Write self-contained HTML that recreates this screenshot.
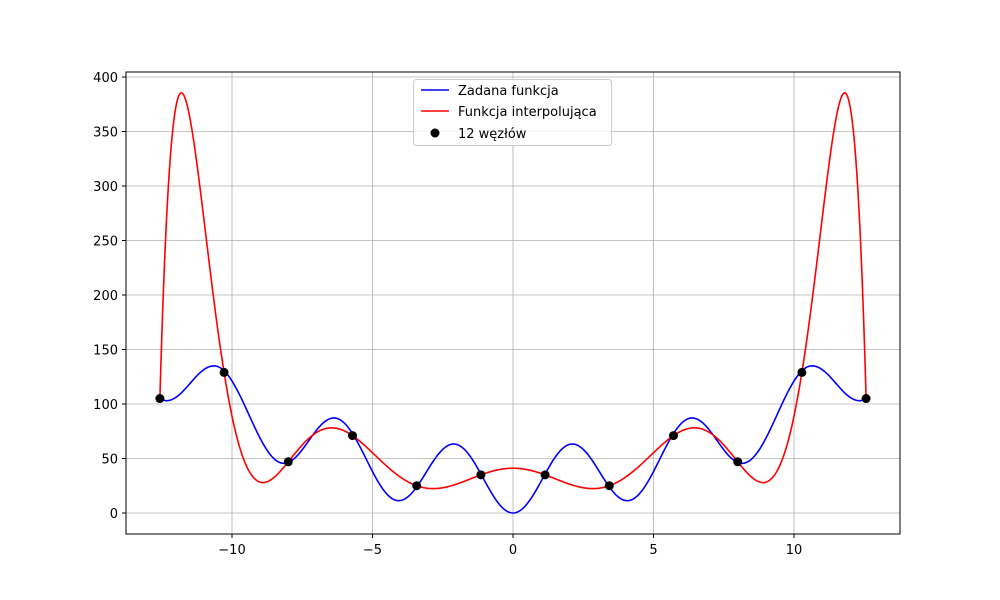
<!DOCTYPE html>
<html><head><meta charset="utf-8"><style>
body{margin:0;background:#fff}
svg{display:block;font-family:"DejaVu Sans","Liberation Sans",sans-serif}
</style></head><body>
<svg id="chart" width="1000" height="600">
<g id="grid"></g>
<g id="series"></g>
<rect x="126" y="72" width="774" height="462" fill="none" stroke="#000" stroke-width="1"/>
<g id="ticks"></g>
<g>
<rect x="413.5" y="79.5" width="198" height="66" rx="3" fill="#fff" fill-opacity="0.8" stroke="#ccc"/>
<line x1="421" y1="90" x2="449" y2="90" stroke="blue" stroke-width="1.6"/>
<text x="458" y="95" font-size="13">Zadana funkcja</text>
<line x1="421" y1="111" x2="449" y2="111" stroke="red" stroke-width="1.6"/>
<text x="458" y="116" font-size="13">Funkcja interpolująca</text>
<circle cx="435" cy="133" r="4.5" fill="#000"/>
<text x="458" y="138" font-size="13">12 węzłów</text>
</g>
</svg>
<script>
const xTicks=[-10,-5,0,5,10];
const yTicks=[0,50,100,150,200,250,300,350,400];
const nodeY=[105,129,47,71,25,35,35,25,71,47,129,105];
// extrema of the given function for x>=0 (mirrored for x<0)
const fx=[0,2.11,4.07,6.37,8.16,10.64,12.34,12.57];
const fy=[0,63.3,11.3,87.2,45.6,135,103,105];
const X=v=>513+v*28.1, Y=v=>513-v*1.09;
const NS='http://www.w3.org/2000/svg';
function mk(t,a,p){const e=document.createElementNS(NS,t);for(const k in a)e.setAttribute(k,a[k]);p.appendChild(e);return e;}
const grid=document.getElementById('grid'),ticks=document.getElementById('ticks'),ser=document.getElementById('series');
xTicks.forEach(t=>{
 const g=mk('line',{x1:X(t),x2:X(t),y1:72,y2:534,stroke:'#b0b0b0','stroke-width':0.8},grid);
 
 
 mk('line',{x1:X(t),x2:X(t),y1:534,y2:538,stroke:'#000'},ticks);
 const l=mk('text',{x:X(t),y:554,'font-size':13,'text-anchor':'middle'},ticks);
 l.textContent=(t<0?'\u2212'+(-t):t);
 
 
});
yTicks.forEach(t=>{
 const g=mk('line',{x1:126,x2:900,y1:Y(t),y2:Y(t),stroke:'#b0b0b0','stroke-width':0.8},grid);
 
 
 mk('line',{x1:122,x2:126,y1:Y(t),y2:Y(t),stroke:'#000'},ticks);
 const l=mk('text',{x:118,y:Y(t)+5,'font-size':13,'text-anchor':'end'},ticks);
 l.textContent=t;
 
 
});
// blue: half-cosine interpolation between extrema (mirrored)
const bx=[],by=[];
for(let i=fx.length-1;i>0;i--){bx.push(-fx[i]);by.push(fy[i]);}
for(let i=0;i<fx.length;i++){bx.push(fx[i]);by.push(fy[i]);}
let d='';
for(let i=0;i<bx.length-1;i++){
 for(let k=0;k<=40;k++){
  const t=k/40, x=bx[i]+(bx[i+1]-bx[i])*t;
  const y=by[i]+(by[i+1]-by[i])*(1-Math.cos(Math.PI*t))/2;
  d+=(d?'L':'M')+X(x).toFixed(2)+','+Y(y).toFixed(2);
 }
}
const b=mk('path',{d:d,fill:'none',stroke:'blue','stroke-width':1.6},ser);


// nodes + Lagrange interpolation
const n=nodeY.length, nodeX=nodeY.map((_,k)=>-4*Math.PI+k*8*Math.PI/(n-1));
function L(x){let s=0;for(let i=0;i<n;i++){let p=nodeY[i];for(let j=0;j<n;j++)if(j!==i)p*=(x-nodeX[j])/(nodeX[i]-nodeX[j]);s+=p;}return s;}
let rd='';
for(let k=0;k<=800;k++){const x=nodeX[0]+(nodeX[n-1]-nodeX[0])*k/800;rd+=(k?'L':'M')+X(x).toFixed(2)+','+Y(L(x)).toFixed(2);}
const r=mk('path',{d:rd,fill:'none',stroke:'red','stroke-width':1.6},ser);


nodeX.forEach((x,i)=>{
 const c=mk('circle',{cx:X(x),cy:Y(nodeY[i]),r:4.5,fill:'#000'},ser);
 
 
});
</script>
</body></html>
